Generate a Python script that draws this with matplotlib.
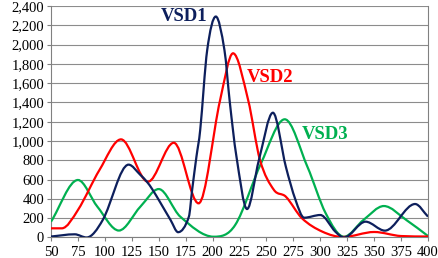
import numpy as np
import matplotlib
matplotlib.use("Agg")
import matplotlib.pyplot as plt
from matplotlib.path import Path
from matplotlib.patches import PathPatch

# values (key points of each curve)
vsd1_x = [50, 72, 83, 98, 122, 133, 139, 144, 151, 161, 168, 178, 181, 185, 188.5, 195, 203, 211, 216, 222, 232, 243, 256, 268, 277, 285, 300, 314, 322, 342, 360, 388, 400]
vsd1_y = [10, 33, 0, 181, 755, 648, 578, 500, 371, 181, 55, 216, 492, 837, 1114, 1943, 2290, 1943, 1400, 850, 295, 803, 1293, 734, 389, 205, 233, 60, 0, 164, 71, 347, 216]

vsd2_x = [50, 60, 75, 95, 115, 140, 164, 187, 207, 219, 233, 244, 257, 268, 283, 302, 321, 350, 375, 400]
vsd2_y = [95, 95, 285, 700, 1017, 578, 982, 354, 1425, 1909, 1425, 803, 492, 423, 199, 60, 5, 57, 15, 10]

vsd3_x = [50, 75, 93, 113, 133, 150, 170, 201, 221, 245, 267, 288, 305, 322, 340, 359, 380, 400]
vsd3_y = [164, 596, 320, 72, 320, 502, 216, 8, 130, 770, 1225, 734, 251, 8, 181, 326, 180, 15]

x_ticks = list(range(50, 401, 25))
y_ticks = list(range(0, 2401, 200))


def smooth_path(xs, ys):
    # catmull-rom like tangents (flat at turning points), drawn as bezier segments
    xs = np.asarray(xs, float)
    ys = np.asarray(ys, float)
    h = np.diff(xs)
    d = np.diff(ys) / h
    m = np.zeros_like(ys)
    m[0], m[-1] = d[0], d[-1]
    for i in range(1, len(xs) - 1):
        if d[i - 1] * d[i] > 0:
            c = (ys[i + 1] - ys[i - 1]) / (xs[i + 1] - xs[i - 1])
            lim = 3 * min(abs(d[i - 1]), abs(d[i]))
            m[i] = np.sign(c) * min(abs(c), lim)
    verts = [(xs[0], ys[0])]
    codes = [Path.MOVETO]
    for i in range(len(xs) - 1):
        dx = h[i] / 3
        verts += [(xs[i] + dx, ys[i] + m[i] * dx),
                  (xs[i + 1] - dx, ys[i + 1] - m[i + 1] * dx),
                  (xs[i + 1], ys[i + 1])]
        codes += [Path.CURVE4] * 3
    return Path(verts, codes)


plt.rcParams['font.family'] = ['Liberation Serif', 'DejaVu Serif']

fig = plt.figure(figsize=(4.39, 2.58), dpi=100)
ax = fig.add_axes([0.1162, 0.0795, 0.975 - 0.1162, 0.977 - 0.0795])

for xs, ys, col in [(vsd3_x, vsd3_y, '#00B050'),
                    (vsd2_x, vsd2_y, '#FF0000'),
                    (vsd1_x, vsd1_y, '#0D1F5C')]:
    ax.add_patch(PathPatch(smooth_path(xs, ys), facecolor='none',
                           edgecolor=col, lw=1.6, zorder=3))

ax.set_xlim(50, 400)
ax.set_ylim(0, 2400)
ax.set_xticks(x_ticks)
ax.set_yticks(y_ticks)
ax.set_yticklabels([f"{v:,}" for v in y_ticks])
ax.tick_params(labelsize=10.5, length=3, color='#808080', pad=2)
ax.tick_params(axis='x', pad=3)
ax.grid(axis='y', color='#8C8C8C', lw=0.8)
for s in ['left', 'bottom', 'right']:
    ax.spines[s].set_color('#808080')
ax.spines['top'].set_visible(False)

ax.text(173.5, 2295, 'VSD1', color='#0D1F5C', fontsize=13.5, fontweight='bold',
        ha='center', va='center')
ax.text(253.5, 1663, 'VSD2', color='#FF0000', fontsize=13.5, fontweight='bold',
        ha='center', va='center')
ax.text(304.5, 1072, 'VSD3', color='#00B050', fontsize=13.5, fontweight='bold',
        ha='center', va='center')

plt.savefig('out.png', dpi=100)
